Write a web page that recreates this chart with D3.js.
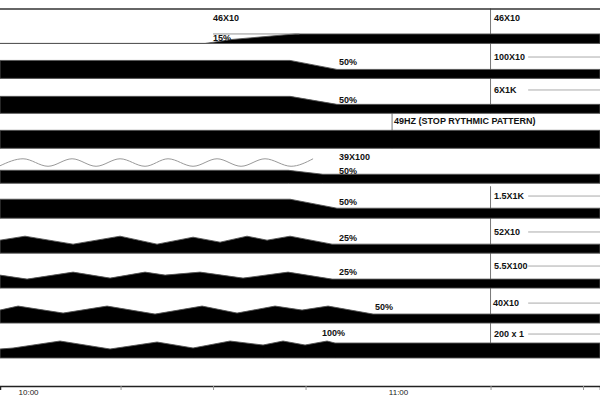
<!DOCTYPE html>
<html><head><meta charset="utf-8">
<script src="https://cdn.jsdelivr.net/npm/d3@7"></script>
<style>body{margin:0;background:#fff}svg{display:block}</style>
</head><body><div id="chart"></div>
<script>
// ---- data (time = minutes after 10:00, amplitude in trace units) ----
const rows = ["46X10","100X10","6X1K","49HZ (STOP RYTHMIC PATTERN)","39X100","1.5X1K","52X10","5.5X100","40X10","200 x 1"];
const pctLabels = ["15%","50%","50%","","50%","50%","25%","25%","50%","100%"];
const timeDomain = [-4.55, 92.75];
const timeTicks = [0, 15, 30, 45, 60, 75, 90];
const tickLabels = {0: "10:00", 60: "11:00"};

const trace0 = [[-4.55,0],[28.7,0],[33.1,4],[43.3,9.5],[92.75,9.5]];
const trace1 = [[-4.55,18],[42.5,18],[50.1,9],[92.75,9]];
const trace2 = [[-4.55,17],[42.5,17],[50.1,9],[92.75,9]];
const trace3 = [[-4.55,18],[92.75,18]];
const trace4 = [[-4.55,13],[42.2,13],[47.8,9],[92.75,9]];
const trace5 = [[-4.55,19],[42.5,19],[50.1,10],[92.75,10]];
const trace6 = [[-4.55,13],[-0.49,17],[7.30,9],[14.92,17],[20.92,9],[26.76,16],[31.14,11],[35.51,17],[38.76,13],[42.49,17],[49.30,9],[92.75,9]];
const trace7 = [[-4.55,13],[-0.16,9],[7.30,16],[13.30,10],[18.97,16],[22.22,13],[27.89,16],[34.86,10],[42.16,16],[49.30,9],[92.75,9]];
const trace8 = [[-4.55,13],[-1.62,17],[5.68,10],[12.81,17],[20.59,9],[28.22,17],[33.89,10],[40.05,17],[44.43,13],[48.65,17],[55.95,9],[92.75,9]];
const trace9 = [[-4.55,9],[-2.43,10],[5.19,17],[13.30,9],[20.92,16],[26.76,10],[32.76,17],[38.11,13],[41.35,17],[44.92,13],[48.49,17],[49.78,15],[92.75,15]];
const traces = [trace0,trace1,trace2,trace3,trace4,trace5,trace6,trace7,trace8,trace9];

// 49 Hz sinusoidal stimulus (extrema)
const waveTimes = [-4.55,-0.81,3.24,7.14,11.03,14.92,18.97,22.70,26.76,30.65,34.54,38.43,42.65,46.22];
const waveLevels = [17.5,24.5,17,24.5,17,24.5,17,24.5,17,24.5,17,24.5,17,24.5];
// 15% reference line in first row
const refLine0 = [[30,9.5],[44,9.5]];

// ---- layout ----
const W = 600, H = 400;
const svg = d3.select("#chart").append("svg").attr("width", W).attr("height", H);
const x = d3.scaleLinear().domain(timeDomain).range([0, W]);
const band = d3.scaleBand().domain(rows).range([8.5, 358]).padding(0);
const amp = d3.scaleLinear().domain([0, 35]).range([0, band.step()]);
const base = r => band(r) + band.bandwidth();
const lvl = (r, v) => base(r) - amp(v);

const font = "'Liberation Sans', Arial, sans-serif";

// vertical marker lines (behind traces)
const vlines = [
  {t: 75, r0: rows[0], from: "top", r1: rows[2]},
  {t: 75, r0: rows[5], from: "top", r1: rows[9]},
  {t: 59.03, r0: rows[3], from: "top", r1: rows[3]}
];
svg.selectAll(".vl").data(vlines).join("line")
  .attr("x1", d => x(d.t)).attr("x2", d => x(d.t))
  .attr("y1", d => band(d.r0) + (d.r0 === rows[5] ? 3 : 0)).attr("y2", d => base(d.r1))
  .attr("stroke", "#777").attr("stroke-width", 1);

// top border
svg.append("line").attr("x1", 0).attr("x2", W)
  .attr("y1", band(rows[0]) + 0.5).attr("y2", band(rows[0]) + 0.5)
  .attr("stroke", "#333").attr("stroke-width", 1.3);

// trace areas
const area = r => d3.area().x(d => x(d[0])).y0(base(r)).y1(d => lvl(r, d[1]));
rows.forEach((r, i) => {
  svg.append("path").datum(traces[i]).attr("d", area(r))
    .attr("fill", "#000").attr("stroke", "#555").attr("stroke-width", 0.9)
    .attr("stroke-linejoin", "round");
});

// wave
svg.append("path").datum(waveTimes.map((t, i) => [t, waveLevels[i]]))
  .attr("d", d3.line().x(d => x(d[0])).y(d => lvl(rows[4], d[1])).curve(d3.curveMonotoneX))
  .attr("fill", "none").attr("stroke", "#999").attr("stroke-width", 1);

// reference line row 0
svg.append("path").datum(refLine0)
  .attr("d", d3.line().x(d => x(d[0])).y(d => lvl(rows[0], d[1])))
  .attr("stroke", "#777").attr("stroke-width", 0.8);

// percent labels: [time, level]
const pctPos = [[30,5.3],[50.43,16.4],[50.43,13.4],null,[50.43,12.3],[50.43,16.2],[50.43,15.2],[50.43,16.1],[56.27,16],[47.68,25]];
pctLabels.forEach((p, i) => {
  if (!p) return;
  svg.append("text").attr("x", x(pctPos[i][0])).attr("y", lvl(rows[i], pctPos[i][1]))
    .attr("dominant-baseline", "central").attr("font-family", font)
    .attr("font-weight", "bold").attr("font-size", 9).attr("fill", "#111").text(p);
});

// stimulus labels: [time, level, connector?]
const stimPos = [[75.57,25.5,false],[75.57,21.4,true],[75.57,23.4,true],[59.35,27.3,false],[50.43,26.3,false],
  [75.57,22.2,true],[75.57,21.2,true],[75.57,22.1,true],[75.4,20,true],[75.57,24,true]];
rows.forEach((r, i) => {
  const [t, v, conn] = stimPos[i];
  svg.append("text").attr("x", x(t)).attr("y", lvl(r, v))
    .attr("dominant-baseline", "central").attr("font-family", font)
    .attr("font-weight", "bold").attr("font-size", 9).attr("fill", "#111").text(r);
  if (conn) {
    svg.append("line").attr("x1", x(81.1)).attr("x2", W)
      .attr("y1", lvl(r, v)).attr("y2", lvl(r, v))
      .attr("stroke", "#aaa").attr("stroke-width", 1);
  }
});
// repeated "46X10" label at ramp start
svg.append("text").attr("x", x(30)).attr("y", lvl(rows[0], 25.8))
  .attr("dominant-baseline", "central").attr("font-family", font)
  .attr("font-weight", "bold").attr("font-size", 9).attr("fill", "#111").text(rows[0]);

// time axis
const axis = d3.axisBottom(x).tickValues(timeTicks)
  .tickFormat(d => tickLabels[d] || "").tickSize(4).tickPadding(-1);
const ax = svg.append("g").attr("transform", "translate(0,386)").call(axis);
ax.select(".domain").attr("stroke", "#222").attr("stroke-width", 1.5);
ax.selectAll(".tick line").attr("stroke", "#999").attr("opacity", d => tickLabels[d] ? 0 : 1);
ax.selectAll(".tick text").attr("font-family", font).attr("font-size", 8).attr("fill", "#222");
</script></body></html>
